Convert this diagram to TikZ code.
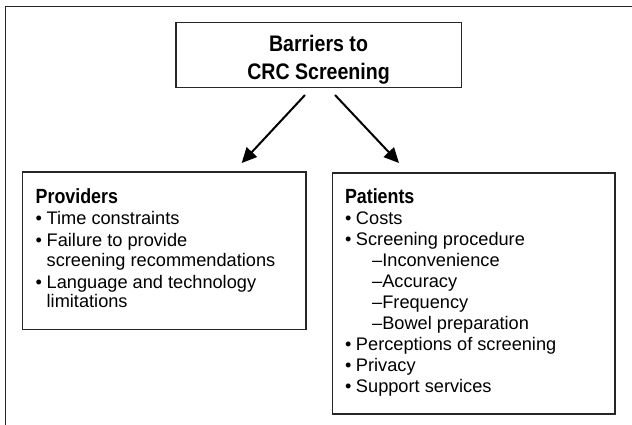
\documentclass[tikz,border=0pt]{standalone}
\usepackage{fontspec}
\setmainfont{Liberation Sans}
\newfontfamily\condfont[FakeStretch=0.87]{Liberation Sans}
\usetikzlibrary{arrows.meta}
\newcommand\itembul{\makebox[11pt][l]{\textbullet}}

\begin{document}
\begin{tikzpicture}[x=1pt,y=-1pt,
  frame/.style={draw=black!85, line width=1.3pt},
  box/.style={draw=black!85, line width=1.3pt, rectangle, inner sep=0pt},
  titletxt/.style={font=\condfont\bfseries\fontsize{22.5}{26}\selectfont, inner sep=0pt, anchor=base},
  head/.style={font=\condfont\bfseries\fontsize{20.5}{23}\selectfont, inner sep=0pt, anchor=base west},
  item/.style={font=\fontsize{18.2}{21}\selectfont, inner sep=0pt, anchor=base west},
  link/.style={line width=2pt, -{Triangle[length=15pt,width=14pt]}}
]
\useasboundingbox[fill=white] (0,0) rectangle (632,424);

% outer frame (runs past the page on the right and bottom)
\draw[frame] (5.7,440) -- (5.7,6.7) -- (650,6.7);

% title
\node[box, minimum width=285.7pt, minimum height=64.6pt] (title) at (318.85,55) {};
\node[titletxt] (t1) at (318.5,51.7) {Barriers to};
\node[titletxt] (t2) at (318.5,79.3) {CRC Screening};

% providers
\node[box, minimum width=283.3pt, minimum height=157.3pt] (prov) at (164.35,250.65) {};
\node[head] (ph) at (35.5,203) {Providers};
\node[item] (p1) at (35.5,224) {\itembul Time constraints};
\node[item] (p2) at (35.5,246) {\itembul Failure to provide};
\node[item] (p3) at (46.5,266) {screening recommendations};
\node[item] (p4) at (35.5,288) {\itembul Language and technology};
\node[item] (p5) at (46.5,307) {limitations};

% patients
\node[box, minimum width=282.3pt, minimum height=241pt] (pat) at (473.85,293.5) {};
\node[head] (qh) at (344.8,203) {Patients};
\node[item] (q1) at (344.8,224) {\itembul Costs};
\node[item] (q2) at (344.8,245) {\itembul Screening procedure};
\node[item] (q3) at (372,266) {\textendash Inconvenience};
\node[item] (q4) at (372,287) {\textendash Accuracy};
\node[item] (q5) at (372,308) {\textendash Frequency};
\node[item] (q6) at (372,329) {\textendash Bowel preparation};
\node[item] (q7) at (344.8,350) {\itembul Perceptions of screening};
\node[item] (q8) at (344.8,371) {\itembul Privacy};
\node[item] (q9) at (344.8,392) {\itembul Support services};

% connectors
\coordinate (a1s) at (305,95);
\coordinate (a1e) at (241.7,163);
\coordinate (a2s) at (335,95);
\coordinate (a2e) at (399,163);
\draw[link] (a1s) -- (a1e);
\draw[link] (a2s) -- (a2e);
\end{tikzpicture}
\end{document}
